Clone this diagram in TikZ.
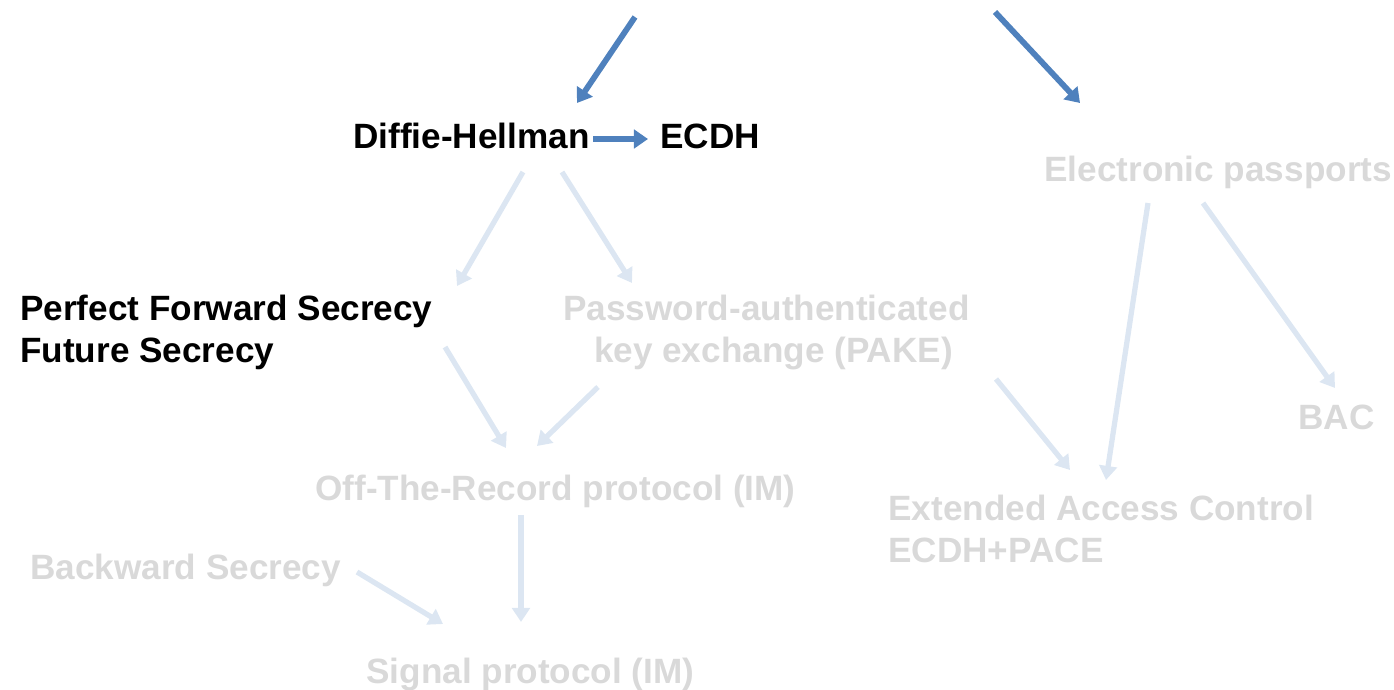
\documentclass[tikz,border=0pt]{standalone}
\usepackage{fontspec}
\setmainfont{Liberation Sans}
\usetikzlibrary{calc,arrows.meta}

\definecolor{arrblue}{RGB}{79,129,189}
\definecolor{arrfade}{RGB}{220,230,242}
\definecolor{txtfade}{RGB}{217,217,217}

\tikzset{
  lbl/.style={font=\fontsize{20pt}{23.6pt}\selectfont\bfseries, inner sep=0pt, anchor=base west},
  dark/.style={lbl, text=black},
  faded/.style={lbl, text=txtfade},
  bluearr/.style={draw=arrblue, line width=3.3pt, -{Triangle[width=10.5pt,length=8pt]}},
  fadearr/.style={draw=arrfade, line width=3pt, -{Triangle[width=10pt,length=8pt]}}
}

\begin{document}
\begin{tikzpicture}[x=0.02cm,y=-0.02cm]
\useasboundingbox (0,0) rectangle (1394,690);

\node[dark] (dh) at (353,148) {Diffie-Hellman};
\node[dark] (ecdh) at (660,148) {ECDH};
\node[faded] (pass) at (1044,181) {Electronic passports};
\node[dark, align=left] (pfs) at (20,362) {Perfect Forward Secrecy\\Future Secrecy};
\node[faded, align=center] (pake) at (563,362) {Password-authenticated\\\hspace{8pt}key exchange (PAKE)};
\node[faded] (bac) at (1298,429) {BAC};
\node[faded] (otr) at (315,500) {Off-The-Record protocol (IM)};
\node[faded, align=left] (eac) at (888,562) {Extended Access Control\\ECDH+PACE};
\node[faded] (bwd) at (30,579) {Backward Secrecy};
\node[faded] (sig) at (366,683) {Signal protocol (IM)};

\coordinate (topl) at (635,17);
\coordinate (topr) at (995,12);

% coloured part
\draw[bluearr] (topl) -- ($(dh.base west)+(224,-45)$);
\draw[bluearr] (topr) -- ($(pass.base west)+(36,-78)$);
\draw[bluearr, line width=3.4pt] ($(dh.base west)+(240,-9)$) -- ($(ecdh.base west)+(-12,-9)$);

% faded part
\draw[fadearr] ($(dh.base west)+(170,24)$) -- ($(pfs.base west)+(437,-76)$);
\draw[fadearr] ($(dh.base west)+(209,24)$) -- ($(pake.base west)+(69,-79)$);
\draw[fadearr] ($(pass.base west)+(104,22)$) -- ($(eac.base west)+(218,-82)$);
\draw[fadearr] ($(pass.base west)+(159,22)$) -- ($(bac.base west)+(37,-41)$);
\draw[fadearr] ($(pfs.base west)+(425,-15)$) -- ($(otr.base west)+(191,-52)$);
\draw[fadearr] ($(pake.base west)+(35,25)$) -- ($(otr.base west)+(222,-54)$);
\draw[fadearr] ($(pake.base west)+(433,17)$) -- ($(eac.base west)+(182,-92)$);
\draw[fadearr] ($(otr.base west)+(206,15)$) -- ($(sig.base west)+(155,-61)$);
\draw[fadearr] ($(bwd.base west)+(327,-7)$) -- ($(sig.base west)+(77,-59)$);

\end{tikzpicture}
\end{document}
